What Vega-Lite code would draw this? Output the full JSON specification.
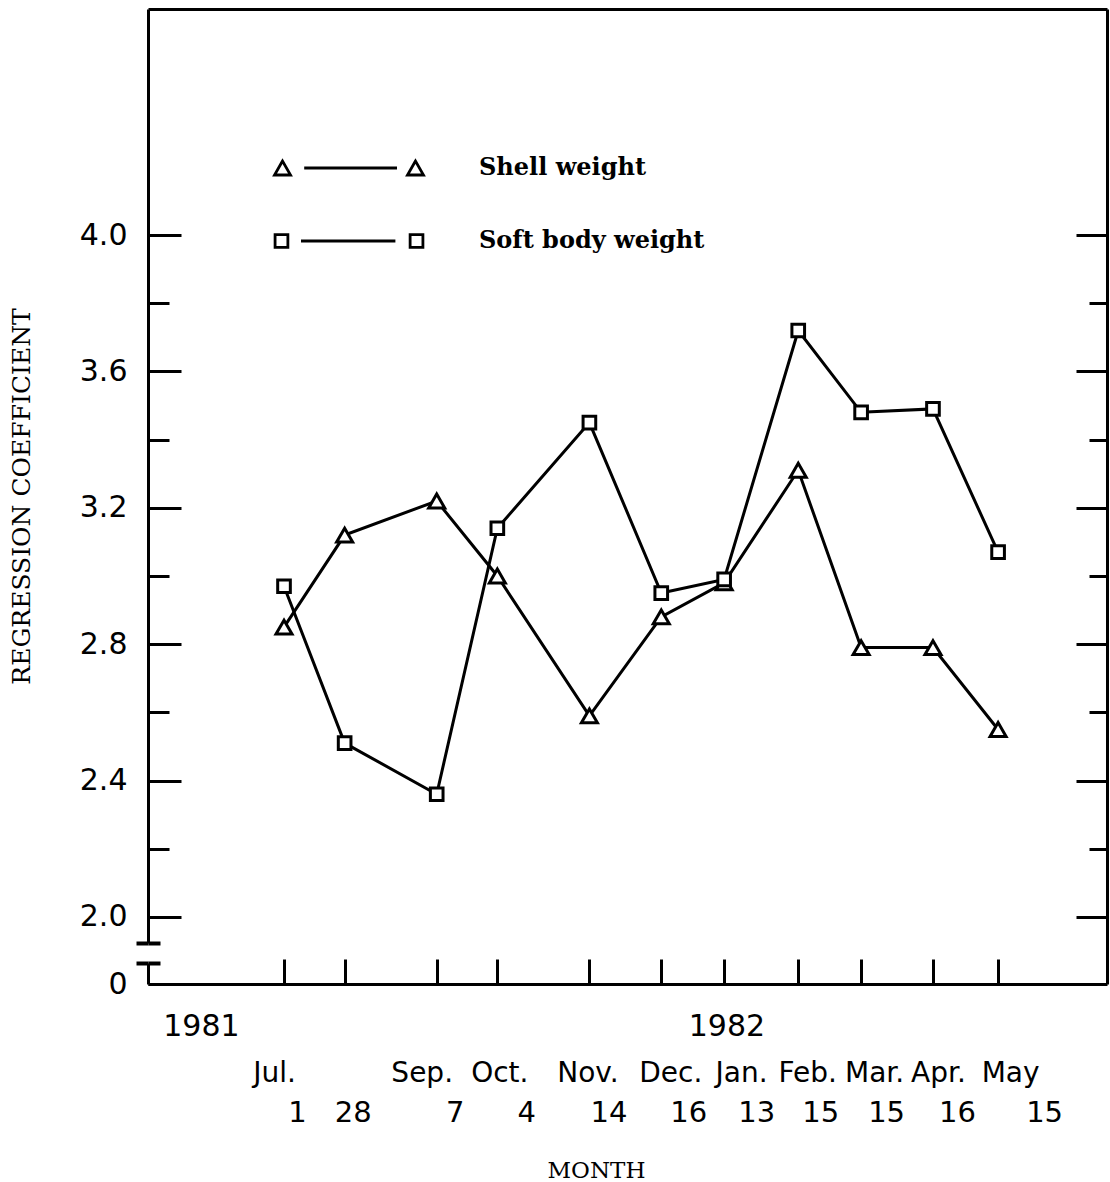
{
  "$schema": "https://vega.github.io/schema/vega-lite/v6.json",
  "width": 959,
  "height": 975,
  "autosize": {"type": "none"},
  "padding": {"left": 148, "top": 9, "right": 3, "bottom": 198},
  "background": "white",
  "config": {
    "view": {"stroke": null},
    "axis": {
      "grid": false,
      "domainColor": "black",
      "domainWidth": 3,
      "tickColor": "black",
      "tickWidth": 3,
      "labelColor": "black",
      "titleColor": "black",
      "labelFont": "DejaVu Sans",
      "labelOverlap": false,
      "labelFlush": false,
      "labelBound": false,
      "labelLimit": 0
    }
  },
  "data": {
    "values": [
      {"date": "1981-07-01", "series": "Shell weight", "value": 2.85},
      {"date": "1981-07-28", "series": "Shell weight", "value": 3.12},
      {"date": "1981-09-07", "series": "Shell weight", "value": 3.22},
      {"date": "1981-10-04", "series": "Shell weight", "value": 3.00},
      {"date": "1981-11-14", "series": "Shell weight", "value": 2.59},
      {"date": "1981-12-16", "series": "Shell weight", "value": 2.88},
      {"date": "1982-01-13", "series": "Shell weight", "value": 2.98},
      {"date": "1982-02-15", "series": "Shell weight", "value": 3.31},
      {"date": "1982-03-15", "series": "Shell weight", "value": 2.79},
      {"date": "1982-04-16", "series": "Shell weight", "value": 2.79},
      {"date": "1982-05-15", "series": "Shell weight", "value": 2.55},
      {"date": "1981-07-01", "series": "Soft body weight", "value": 2.97},
      {"date": "1981-07-28", "series": "Soft body weight", "value": 2.51},
      {"date": "1981-09-07", "series": "Soft body weight", "value": 2.36},
      {"date": "1981-10-04", "series": "Soft body weight", "value": 3.14},
      {"date": "1981-11-14", "series": "Soft body weight", "value": 3.45},
      {"date": "1981-12-16", "series": "Soft body weight", "value": 2.95},
      {"date": "1982-01-13", "series": "Soft body weight", "value": 2.99},
      {"date": "1982-02-15", "series": "Soft body weight", "value": 3.72},
      {"date": "1982-03-15", "series": "Soft body weight", "value": 3.48},
      {"date": "1982-04-16", "series": "Soft body weight", "value": 3.49},
      {"date": "1982-05-15", "series": "Soft body weight", "value": 3.07}
    ]
  },
  "resolve": {
    "axis": {"x": "independent", "y": "independent"},
    "scale": {"shape": "independent", "size": "independent"},
    "legend": {"shape": "independent"}
  },
  "layer": [
    {
      "mark": {"type": "line", "color": "black", "strokeWidth": 3},
      "encoding": {
        "x": {
          "field": "date", "type": "temporal",
          "scale": {"type": "utc", "domain": [{"year": 1981, "month": 5, "date": 1, "hours": 10, "minutes": 20, "utc": true}, {"year": 1982, "month": 7, "date": 2, "hours": 12, "utc": true}]},
          "axis": {
            "orient": "bottom",
            "values": [
              {"year": 1981, "month": 7, "date": 1, "utc": true},
              {"year": 1981, "month": 7, "date": 28, "utc": true},
              {"year": 1981, "month": 9, "date": 7, "utc": true},
              {"year": 1981, "month": 10, "date": 4, "utc": true},
              {"year": 1981, "month": 11, "date": 14, "utc": true},
              {"year": 1981, "month": 12, "date": 16, "utc": true},
              {"year": 1982, "month": 1, "date": 13, "utc": true},
              {"year": 1982, "month": 2, "date": 15, "utc": true},
              {"year": 1982, "month": 3, "date": 15, "utc": true},
              {"year": 1982, "month": 4, "date": 16, "utc": true},
              {"year": 1982, "month": 5, "date": 15, "utc": true}
            ],
            "tickSize": -25,
            "domain": true,
            "labelExpr": "utcdate(datum.value) == 28 ? '' : utcFormat(datum.value, '%b') + (utcmonth(datum.value) == 4 ? '' : '.')",
            "labelFontSize": 28,
            "labelPadding": 100,
            "labelOffset": {
              "condition": [
                {"test": "utcmonth(datum.value) == 6", "value": -10},
                {"test": "utcmonth(datum.value) == 8", "value": -15},
                {"test": "utcmonth(datum.value) == 9", "value": 2},
                {"test": "utcmonth(datum.value) == 10", "value": -2},
                {"test": "utcmonth(datum.value) == 11", "value": 9},
                {"test": "utcmonth(datum.value) == 0", "value": 17},
                {"test": "utcmonth(datum.value) == 1", "value": 9},
                {"test": "utcmonth(datum.value) == 2", "value": 13},
                {"test": "utcmonth(datum.value) == 3", "value": 5},
                {"test": "utcmonth(datum.value) == 4", "value": 12}
              ],
              "value": 0
            },
            "title": "MONTH",
            "titleFont": "DejaVu Serif",
            "titleFontSize": 23,
            "titleFontWeight": "normal",
            "titleX": 448,
            "titleY": 193,
            "titleAlign": "center",
            "titleBaseline": "alphabetic"
          }
        },
        "y": {
          "field": "value", "type": "quantitative",
          "scale": {"domain": [1.8035, 4.6628], "nice": false, "zero": false},
          "axis": {
            "orient": "left",
            "values": [1.8035, 2.0, 2.4, 2.8, 3.2, 3.6, 4.0],
            "labelExpr": "datum.value < 1.9 ? '0' : format(datum.value, '.1f')",
            "tickSize": -33,
            "labelFontSize": 30,
            "labelPadding": 54,
            "domain": true,
            "domainDash": [21, 20, 1200],
            "title": "REGRESSION COEFFICIENT",
            "titleFont": "DejaVu Serif",
            "titleFontSize": 25,
            "titleFontWeight": "normal",
            "titleX": -119,
            "titleY": 487,
            "titleAngle": 270,
            "titleAlign": "center",
            "titleBaseline": "alphabetic"
          }
        },
        "detail": {"field": "series", "type": "nominal"}
      }
    },
    {
      "mark": {"type": "point", "filled": true, "fill": "white", "stroke": "black", "strokeWidth": 3, "opacity": 1},
      "encoding": {
        "x": {
          "field": "date", "type": "temporal",
          "axis": {
            "orient": "bottom",
            "values": [
              {"year": 1981, "month": 7, "date": 1, "utc": true},
              {"year": 1981, "month": 7, "date": 28, "utc": true},
              {"year": 1981, "month": 9, "date": 7, "utc": true},
              {"year": 1981, "month": 10, "date": 4, "utc": true},
              {"year": 1981, "month": 11, "date": 14, "utc": true},
              {"year": 1981, "month": 12, "date": 16, "utc": true},
              {"year": 1982, "month": 1, "date": 13, "utc": true},
              {"year": 1982, "month": 2, "date": 15, "utc": true},
              {"year": 1982, "month": 3, "date": 15, "utc": true},
              {"year": 1982, "month": 4, "date": 16, "utc": true},
              {"year": 1982, "month": 5, "date": 15, "utc": true}
            ],
            "ticks": false,
            "domain": false,
            "labelExpr": "'' + utcdate(datum.value)",
            "labelFontSize": 29,
            "labelPadding": 114,
            "labelOffset": {
              "condition": [
                {"test": "utcmonth(datum.value) == 6 && utcdate(datum.value) == 1", "value": 13},
                {"test": "utcmonth(datum.value) == 6 && utcdate(datum.value) == 28", "value": 8},
                {"test": "utcmonth(datum.value) == 8", "value": 18},
                {"test": "utcmonth(datum.value) == 9", "value": 29},
                {"test": "utcmonth(datum.value) == 10", "value": 19},
                {"test": "utcmonth(datum.value) == 11", "value": 27},
                {"test": "utcmonth(datum.value) == 0", "value": 32},
                {"test": "utcmonth(datum.value) == 1", "value": 22},
                {"test": "utcmonth(datum.value) == 2", "value": 25},
                {"test": "utcmonth(datum.value) == 3", "value": 24},
                {"test": "utcmonth(datum.value) == 4", "value": 46}
              ],
              "value": 0
            },
            "title": null
          }
        },
        "y": {
          "field": "value", "type": "quantitative",
          "axis": {
            "orient": "left",
            "values": [2.2, 2.6, 3.0, 3.4, 3.8],
            "tickSize": -21,
            "labels": false,
            "domain": false,
            "title": null
          }
        },
        "shape": {
          "field": "series", "type": "nominal",
          "scale": {"domain": ["Shell weight", "Soft body weight"], "range": ["triangle-up", "square"]},
          "legend": null
        },
        "size": {
          "field": "series", "type": "nominal",
          "scale": {"domain": ["Shell weight", "Soft body weight"], "range": [256, 160]},
          "legend": null
        }
      }
    },
    {
      "transform": [{"filter": "false"}],
      "mark": {"type": "point", "filled": false, "color": "black", "strokeWidth": 3},
      "encoding": {
        "x": {
          "field": "date", "type": "temporal",
          "axis": {
            "orient": "bottom",
            "values": [
              {"year": 1981, "month": 5, "date": 25, "utc": true},
              {"year": 1982, "month": 1, "date": 14, "utc": true}
            ],
            "ticks": false,
            "domain": false,
            "labelExpr": "'' + utcyear(datum.value)",
            "labelFontSize": 30,
            "labelPadding": 27,
            "title": null
          }
        },
        "y": {
          "field": "value", "type": "quantitative",
          "axis": {
            "orient": "left",
            "values": [1.9237, 1.8651],
            "tickSize": 12,
            "tickWidth": 4,
            "labels": false,
            "domain": false,
            "title": null
          }
        },
        "shape": {
          "field": "series", "type": "nominal",
          "scale": {
            "domain": ["Shell weight", "Soft body weight"],
            "range": [
              "M-8.31,-0.875L-9.31,0.875L-7.31,0.875Z M8.31,-0.875L7.31,0.875L9.31,0.875Z M-5.6,0L6.0,0",
              "M-9.24,-0.8L-7.64,-0.8L-7.64,0.8L-9.24,0.8Z M7.64,-0.8L9.24,-0.8L9.24,0.8L7.64,0.8Z M-6.0,0L5.8,0"
            ]
          },
          "legend": {
            "orient": "none",
            "legendX": 189,
            "legendY": 147,
            "title": null,
            "padding": 0,
            "symbolSize": 256,
            "symbolStrokeWidth": 2.8,
            "symbolStrokeColor": "black",
            "symbolFillColor": "transparent",
            "symbolOpacity": 1,
            "labelFont": "DejaVu Serif",
            "labelFontSize": 24,
            "labelFontWeight": "bold",
            "labelColor": "black",
            "labelOffset": 118,
            "labelLimit": 0,
            "rowPadding": 48
          }
        }
      }
    },
    {
      "transform": [{"filter": "false"}],
      "mark": {"type": "point"},
      "encoding": {
        "x": {
          "field": "date", "type": "temporal",
          "axis": {"orient": "top", "ticks": false, "labels": false, "domain": true, "title": null}
        },
        "y": {
          "field": "value", "type": "quantitative",
          "axis": {
            "orient": "left",
            "values": [1.9237, 1.8651],
            "tickSize": -12,
            "tickWidth": 4,
            "labels": false,
            "domain": false,
            "title": null
          }
        }
      }
    },
    {
      "transform": [{"filter": "false"}],
      "mark": {"type": "point"},
      "encoding": {
        "x": {"field": "date", "type": "temporal", "axis": null},
        "y": {
          "field": "value", "type": "quantitative",
          "axis": {
            "orient": "right",
            "values": [2.0, 2.4, 2.8, 3.2, 3.6, 4.0],
            "tickSize": -31,
            "labels": false,
            "domain": true,
            "title": null
          }
        }
      }
    },
    {
      "transform": [{"filter": "false"}],
      "mark": {"type": "point"},
      "encoding": {
        "x": {"field": "date", "type": "temporal", "axis": null},
        "y": {
          "field": "value", "type": "quantitative",
          "axis": {
            "orient": "right",
            "values": [2.2, 2.6, 3.0, 3.4, 3.8],
            "tickSize": -18,
            "labels": false,
            "domain": false,
            "title": null
          }
        }
      }
    }
  ]
}
